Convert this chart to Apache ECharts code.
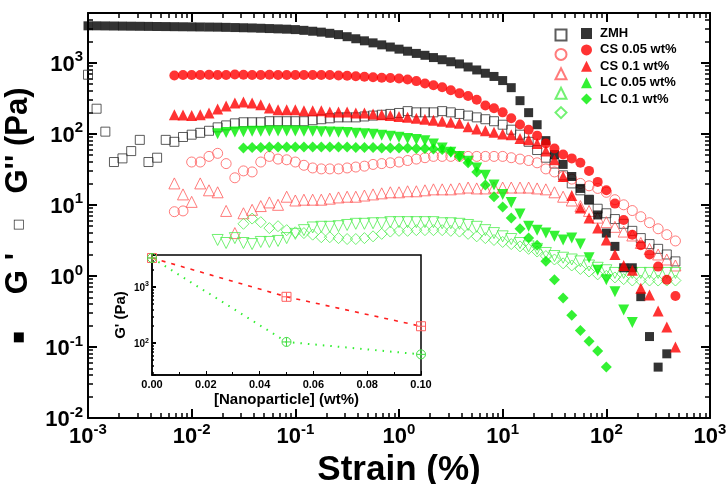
<!DOCTYPE html>
<html>
<head>
<meta charset="utf-8">
<title>G' and G'' vs strain</title>
<script src="https://cdn.jsdelivr.net/npm/echarts@6/dist/echarts.min.js"></script>
<style>
  html, body { margin: 0; padding: 0; background: #fff; }
  #chart { width: 727px; height: 484px; }
</style>
</head>
<body>
<div id="chart"></div>
<script>
// strain (%) of the sweep, 12 points per decade
var strain = [
  0.001, 0.00121, 0.00147, 0.00178, 0.00215, 0.00261, 0.00316, 0.00383, 0.00464, 0.00562, 0.00681, 0.00825,
  0.01, 0.0121, 0.0147, 0.0178, 0.0215, 0.0261, 0.0316, 0.0383, 0.0464, 0.0562, 0.0681, 0.0825,
  0.1, 0.121, 0.147, 0.178, 0.215, 0.261, 0.316, 0.383, 0.464, 0.562, 0.681, 0.825,
  1, 1.21, 1.47, 1.78, 2.15, 2.61, 3.16, 3.83, 4.64, 5.62, 6.81, 8.25,
  10, 12.1, 14.7, 17.8, 21.5, 26.1, 31.6, 38.3, 46.4, 56.2, 68.1, 82.5,
  100, 121, 147, 178, 215, 261, 316, 383, 464
];

// G' (Pa), filled symbols
var zmhStorage = [
  3300, 3300, 3290, 3280, 3270, 3260, 3250, 3240, 3230, 3220, 3210, 3200,
  3190, 3180, 3170, 3160, 3140, 3120, 3100, 3080, 3050, 3020, 2990, 2960,
  2920, 2850, 2770, 2690, 2590, 2480, 2320, 2170, 2030, 1900, 1780, 1660,
  1550, 1450, 1350, 1270, 1180, 1100, 1030, 960, 870, 790, 710, 640,
  560, 445, 292, 198, 134, 80, 51, 37, 25, 17, 11.8, 7.2,
  4.0, 2.6, 1.3, 1.3, 0.51, 0.14, 0.052, 0.08, null
];
var cs05Storage = [
  null, null, null, null, null, null, null, null, null, null, 660, 670,
  670, 670, 675, 670, 670, 680, 675, 670, 670, 675, 670, 670,
  670, 670, 670, 670, 670, 660, 655, 645, 635, 625, 615, 610,
  600, 580, 550, 510, 480, 450, 410, 370, 340, 300, 250, 228,
  200, 165, 135, 114, 94, 73, 62, 51, 45, 39, 30, 21,
  16, 10.4, 6.1, 3.8, 2.7, 2.0, 1.35, 0.88, 0.52
];
var cs10Storage = [
  null, null, null, null, null, null, null, null, null, null, 185, 183,
  180, 185, 196, 222, 245, 270, 280, 270, 255, 230, 218, 218,
  218, 210, 210, 210, 203, 203, 203, 196, 196, 190, 185, 180,
  175, 170, 165, 160, 155, 150, 145, 140, 125, 117, 110, 105,
  99, 97, 86, 82, 73, 57, 43, 25, 13.5, 9, 6.5, 4.7,
  3.2, 2.0, 1.4, 1.2, 0.67, 0.54, 0.32, 0.19, 0.10
];
var lc05Storage = [
  null, null, null, null, null, null, null, null, null, null, null, null,
  null, null, null, 100, 104, 106, 107, 108, 108, 109, 109, 109,
  109, 108, 108, 107, 106, 105, 104, 102, 100, 98, 95, 92,
  89, 86, 83, 80, 72, 63, 55, 48, 41, 33, 26, 19,
  14, 10.8, 7.4, 5.0, 4.4, 4.0, 3.6, 3.2, 3.4, 2.8, 1.8, 1.2,
  0.88, 0.6, 0.33, 0.22, null, null, null, null, null
];
var lc10Storage = [
  null, null, null, null, null, null, null, null, null, null, null, null,
  null, null, null, null, null, null, 63, 64, 64, 65, 65, 65,
  65, 65, 65, 65, 65, 65, 65, 64, 64, 64, 63, 63,
  63, 63, 62, 62, 61, 60, 56, 48, 39, 29, 19, 13,
  9.3, 6.5, 4.6, 3.4, 2.7, 1.6, 0.88, 0.49, 0.28, 0.17, 0.12, 0.088,
  0.052, null, null, null, null, null, null, null, null
];

// G'' (Pa), open symbols
var zmhLoss = [
  677, 225, 107, 40, 45, 57, 82, 40, 46, 82, 77, 90,
  97, 103, 110, 123, 131, 140, 145, 145, 145, 150, 150, 150,
  150, 150, 155, 160, 165, 170, 170, 170, 175, 180, 185, 190,
  196, 208, 200, 200, 200, 208, 200, 190, 180, 170, 160, 150,
  134, 114, 97, 77, 59, 46, 38, 26, 20, 16, 11.8, 8.8,
  7.6, 6.3, 5.4, 4.3, 3.4, 2.8, 2.4, 2.0, 1.6
];
var cs05Loss = [
  null, null, null, null, null, null, null, null, null, null, 8.0, 8.2,
  40, 40, 48, 53, 38, 24, 30, 29, 40, 48, 44, 43,
  40, 36, 33, 32, 32, 32, 33, 34, 35, 37, 38, 39,
  40, 42, 44, 46, 48, 48, 48, 48, 48, 48, 48, 48,
  48, 46, 44, 42, 39, 32, 29, 25, 23, 20, 18.5, 17,
  15, 11.8, 10, 8.3, 6.8, 5.6, 4.6, 3.8, 3.1
];
var cs10Loss = [
  null, null, null, null, null, null, null, null, null, null, 20, 14,
  11, 20, 16, 15, 8.2, 4.0, 7.6, 8.5, 9.6, 10.8, 10, 13,
  11.5, 11.8, 11.8, 11.8, 12.2, 12.7, 13, 13, 13.5, 14, 14.5, 15,
  15, 15.5, 15.5, 16, 16.5, 16.5, 16.5, 17, 17.5, 17, 17, 17.5,
  17.5, 17.5, 17.5, 17.5, 17, 16.5, 15, 13, 11.5, 9.6, 8.2, 6.6,
  5.7, 4.9, 4.2, 3.7, 2.9, 2.4, 2.0, 1.7, 1.4
];
var lc05Loss = [
  null, null, null, null, null, null, null, null, null, null, null, null,
  null, null, null, 3.2, 2.9, 3.4, 2.9, 2.8, 3.0, 3.0, 3.1, 3.4,
  3.9, 4.4, 4.8, 4.9, 4.9, 5.0, 5.2, 5.4, 5.4, 5.5, 5.5, 5.7,
  5.7, 5.7, 5.7, 5.7, 5.7, 5.5, 5.5, 5.4, 5.2, 4.9, 4.4, 4.0,
  3.6, 3.3, 2.9, 2.6, 2.4, 2.1, 1.9, 1.8, 1.7, 1.6, 1.4, 1.3,
  1.2, 1.1, 1.1, 1.1, 1.1, 1.1, 1.1, 1.1, 1.1
];
var lc10Loss = [
  null, null, null, null, null, null, null, null, null, null, null, null,
  null, null, null, null, null, null, 5.4, 6.4, 5.7, 4.7, 5.0, 4.4,
  4.1, 4.0, 3.8, 3.5, 3.5, 3.4, 3.3, 3.3, 3.4, 3.6, 3.9, 4.2,
  4.3, 4.3, 4.4, 4.4, 4.4, 4.4, 4.3, 4.2, 3.9, 3.6, 3.4, 3.2,
  3.0, 2.8, 2.6, 2.4, 2.2, 1.9, 1.7, 1.5, 1.4, 1.25, 1.15, 1.05,
  1.0, 0.95, 0.9, 0.86, 0.86, 0.86, 0.86, 0.86, 0.86
];

// inset: plateau G' against nanoparticle loading (wt%)
var loading = [0, 0.05, 0.1];
var csPlateau = [3300, 670, 200];
var lcPlateau = [3300, 105, 63];

var sampleNames = ['ZMH', 'CS 0.05 wt%', 'CS 0.1 wt%', 'LC 0.05 wt%', 'LC 0.1 wt%'];
var strainTicks = [0.001, 0.01, 0.1, 1, 10, 100, 1000];
var modulusTicks = [0.01, 0.1, 1, 10, 100, 1000];
var insetModulusTicks = [100, 1000];

var FONT = 'Liberation Sans';

function pairs(xs, ys) {
  var out = [];
  for (var i = 0; i < xs.length; i++) {
    if (ys[i] != null) out.push([xs[i], ys[i]]);
  }
  return out;
}

// exponents of 2..9 x 10^n between lo and hi, for the small log ticks
function logMinorExp(lo, hi) {
  var out = [];
  for (var e = Math.floor(Math.log10(lo)); e <= Math.ceil(Math.log10(hi)); e++) {
    for (var m = 2; m <= 9; m++) {
      var v = m * Math.pow(10, e);
      if (v > lo && v < hi) out.push(Math.log10(v));
    }
  }
  return out;
}

function pow10Label(v) {
  return '{b|10}{s|' + Math.round(Math.log10(v)) + '}';
}

function powRich(big, small, lift) {
  return {
    b: { fontSize: big, fontWeight: 'bold', fontFamily: FONT, color: '#000', verticalAlign: 'bottom' },
    s: { fontSize: small, fontWeight: 'bold', fontFamily: FONT, color: '#000', verticalAlign: 'bottom', padding: [0, 0, lift, 0] }
  };
}

// log axis of a boxed frame; draws the line and the ticks at each decade
function frameAxis(grid, pos, lo, hi, lineW, tickLen, extra) {
  return Object.assign({
    type: 'log', gridIndex: grid, position: pos, min: lo, max: hi,
    axisLine: { show: true, onZero: false, lineStyle: { color: '#000', width: lineW } },
    axisTick: { show: true, inside: true, length: tickLen, lineStyle: { color: '#000', width: 2 } },
    splitLine: { show: false },
    axisLabel: { show: false }
  }, extra || {});
}

// hidden value axis over log10 of the range, only for the 2..9 ticks
function minorAxis(grid, pos, lo, hi, len) {
  return {
    type: 'value', gridIndex: grid, position: pos,
    min: Math.log10(lo), max: Math.log10(hi),
    axisLine: { show: false, onZero: false }, splitLine: { show: false }, axisLabel: { show: false },
    axisTick: { show: true, inside: true, length: len, customValues: logMinorExp(lo, hi),
      lineStyle: { color: '#000', width: 1.5 } }
  };
}

var xLo = 0.001, xHi = 1000;
var yLo = 0.01, yHi = 5000;

var xAxes = [
  frameAxis(0, 'bottom', xLo, xHi, 2, 9, {
    name: 'Strain (%)',
    nameLocation: 'middle',
    nameGap: 33,
    nameTextStyle: { fontSize: 35, fontWeight: 'bold', fontFamily: FONT, color: '#000' },
    axisLabel: { show: true, customValues: strainTicks, margin: 4, formatter: pow10Label, rich: powRich(22, 15, 11) }
  }),
  frameAxis(0, 'top', xLo, xHi, 2, 9),
  minorAxis(0, 'bottom', xLo, xHi, 5),
  minorAxis(0, 'top', xLo, xHi, 5)
];

var yAxes = [
  frameAxis(0, 'left', yLo, yHi, 2, 9, {
    name: "{sq|\u25A0}{t|G}{ap|'}{oq|\u25A1}{t|G'' (Pa)}",
    nameLocation: 'middle',
    nameGap: 44,
    nameTextStyle: {
      rich: {
        t: { fontSize: 31, fontWeight: 'bold', fontFamily: FONT, color: '#000', verticalAlign: 'middle' },
        ap: { fontSize: 31, fontWeight: 'bold', fontFamily: FONT, color: '#000', verticalAlign: 'middle', padding: [0, 0, 0, 10] },
        sq: { fontSize: 13, fontFamily: 'DejaVu Sans', color: '#000', verticalAlign: 'middle', padding: [0, 37, 0, 0] },
        oq: { fontSize: 13, fontFamily: 'DejaVu Sans', color: '#333', verticalAlign: 'middle', padding: [0, 25, 0, 22] }
      }
    },
    axisLabel: { show: true, customValues: modulusTicks, margin: 5, formatter: pow10Label, rich: powRich(22, 15, 11) }
  }),
  frameAxis(0, 'right', yLo, yHi, 2, 9),
  minorAxis(0, 'left', yLo, yHi, 5),
  minorAxis(0, 'right', yLo, yHi, 5)
];

// inset axes (x index 4, y index 4)
xAxes.push({
  type: 'value',
  gridIndex: 1,
  min: 0,
  max: 0.1,
  interval: 0.02,
  name: '[Nanoparticle] (wt%)',
  nameLocation: 'middle',
  nameGap: 17,
  nameTextStyle: { fontSize: 15, fontWeight: 'bold', fontFamily: FONT, color: '#000' },
  axisLine: { show: true, onZero: false, lineStyle: { color: '#000', width: 1.5 } },
  axisTick: { inside: true, length: 4, lineStyle: { color: '#000' } },
  minorTick: { show: true, splitNumber: 2, length: 3, lineStyle: { color: '#000' } },
  splitLine: { show: false },
  axisLabel: { margin: 4, fontSize: 11, fontWeight: 'bold', fontFamily: FONT, color: '#000',
    formatter: function (v) { return v.toFixed(2); } }
});
yAxes.push(frameAxis(1, 'left', 27, 3730, 1.5, 4, {
  name: "G' (Pa)",
  nameLocation: 'middle',
  nameGap: 24,
  nameTextStyle: { fontSize: 15, fontWeight: 'bold', fontFamily: FONT, color: '#000' },
  axisLabel: { show: true, customValues: insetModulusTicks, margin: 3, formatter: pow10Label, rich: powRich(10, 7, 5) }
}));
yAxes.push(minorAxis(1, 'left', 27, 3730, 2));

var styles = [
  { symbol: 'rect', rotate: 0, fill: '#000000', edge: '#333333', size: 9 },
  { symbol: 'circle', rotate: 0, fill: '#ff0000', edge: '#ff5a5a', size: 10 },
  { symbol: 'triangle', rotate: 0, fill: '#ff0000', edge: '#ff5a5a', size: 11 },
  { symbol: 'triangle', rotate: 180, fill: '#00ee00', edge: '#4fee4f', size: 11 },
  { symbol: 'diamond', rotate: 0, fill: '#00ee00', edge: '#4fee4f', size: 11 }
];
var storage = [zmhStorage, cs05Storage, cs10Storage, lc05Storage, lc10Storage];
var loss = [zmhLoss, cs05Loss, cs10Loss, lc05Loss, lc10Loss];

var series = [];
var openNames = [];
for (var i = 0; i < sampleNames.length; i++) {
  var st = styles[i];
  var openName = sampleNames[i] + " G''";
  openNames.push(openName);
  series.push({
    name: openName,
    type: 'scatter',
    data: pairs(strain, loss[i]),
    symbol: st.symbol,
    symbolRotate: st.rotate,
    symbolSize: st.size,
    itemStyle: { color: 'none', borderColor: st.edge, borderWidth: 1 },
    z: 2
  });
  series.push({
    name: sampleNames[i],
    type: 'scatter',
    data: pairs(strain, storage[i]),
    symbol: st.symbol,
    symbolRotate: st.rotate,
    symbolSize: st.size,
    itemStyle: { color: st.fill },
    z: 3
  });
}

series.push({
  name: 'CS plateau',
  type: 'line',
  xAxisIndex: 4,
  yAxisIndex: 4,
  data: pairs(loading, csPlateau),
  symbol: 'path://M0,0H10V10H0Z M5,0V10 M0,5H10',
  symbolSize: 9,
  showSymbol: true,
  itemStyle: { color: 'none', borderColor: '#ff6060', borderWidth: 1 },
  lineStyle: { color: '#ff2020', width: 1.6, type: [4, 6] },
  z: 5
});
series.push({
  name: 'LC plateau',
  type: 'line',
  xAxisIndex: 4,
  yAxisIndex: 4,
  data: pairs(loading, lcPlateau),
  symbol: 'path://M0,5A5,5 0 1,1 10,5A5,5 0 1,1 0,5Z M5,0V10 M0,5H10',
  symbolSize: 9,
  showSymbol: true,
  itemStyle: { color: 'none', borderColor: '#44dd44', borderWidth: 1 },
  lineStyle: { color: '#33ee33', width: 2, type: [1.5, 6] },
  z: 5
});

var chart = echarts.init(document.getElementById('chart'), null, { renderer: 'canvas' });
chart.setOption({
  animation: false,
  backgroundColor: '#fff',
  grid: [
    { left: 88, top: 13, width: 622, height: 405, outerBoundsMode: 'none' },
    { left: 152, top: 255, width: 269, height: 120, show: true, backgroundColor: '#fff',
      borderColor: '#000', borderWidth: 1.5, outerBoundsMode: 'none' }
  ],
  xAxis: xAxes,
  yAxis: yAxes,
  legend: [
    {
      data: openNames,
      orient: 'vertical',
      left: 548,
      top: 22,
      itemWidth: 11,
      itemHeight: 11,
      itemGap: 3.4,
      selectedMode: false,
      formatter: function () { return ''; },
      textStyle: { fontSize: 11, lineHeight: 11 }
    },
    {
      data: sampleNames,
      orient: 'vertical',
      left: 576,
      top: 22,
      itemWidth: 11,
      itemHeight: 11,
      itemGap: 3.4,
      selectedMode: false,
      textStyle: { fontSize: 13, lineHeight: 11, fontWeight: 'bold', fontFamily: FONT, color: '#000', padding: [0, 0, 0, 3] }
    }
  ],
  series: series
});
</script>
</body>
</html>
